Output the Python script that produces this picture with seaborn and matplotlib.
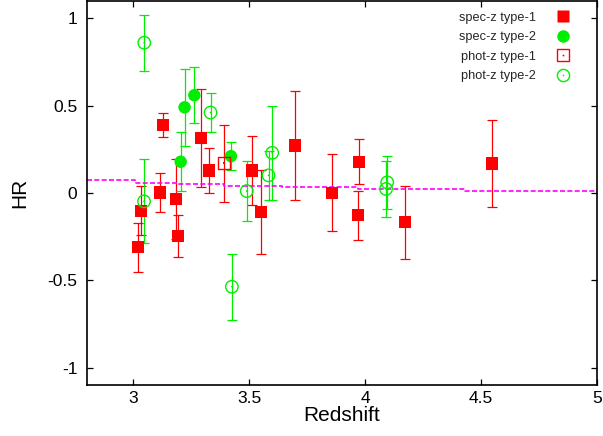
import matplotlib
matplotlib.use("Agg")
import matplotlib.pyplot as plt
import seaborn as sns
import pandas as pd
from matplotlib.lines import Line2D

# ---- data ----
spec1_z = [3.019, 3.033, 3.115, 3.128, 3.184, 3.191, 3.292, 3.326, 3.51, 3.55, 3.697, 3.855, 3.973, 3.968, 4.172, 4.547]
spec1_hr = [-0.311, -0.101, 0.003, 0.39, -0.033, -0.248, 0.316, 0.129, 0.129, -0.111, 0.272, 0.002, 0.18, -0.128, -0.168, 0.169]
spec1_err = [0.14, 0.14, 0.11, 0.07, 0.23, 0.12, 0.28, 0.13, 0.20, 0.24, 0.31, 0.22, 0.13, 0.14, 0.21, 0.25]

spec2_z = [3.204, 3.221, 3.263, 3.421]
spec2_hr = [0.179, 0.491, 0.56, 0.211]
spec2_err = [0.17, 0.22, 0.16, 0.08]

phot1_z = [3.39]
phot1_hr = [0.171]
phot1_err = [0.22]

phot2_z = [3.047, 3.046, 3.333, 3.425, 3.489, 3.583, 3.599, 4.095, 4.09]
phot2_hr = [0.861, -0.048, 0.461, -0.537, 0.011, 0.101, 0.23, 0.061, 0.023]
phot2_err = [0.16, 0.24, 0.11, 0.19, 0.17, 0.14, 0.27, 0.15, 0.16]

line_z = [2.8, 3.007, 3.188, 3.39, 3.641, 3.969, 4.43, 5.0]
line_hr = [0.076, 0.059, 0.052, 0.042, 0.032, 0.021, 0.011, 0.011]

x_ticks = [3, 3.5, 4, 4.5, 5]
x_ticklabels = ["3", "3.5", "4", "4.5", "5"]
y_ticks = [-1, -0.5, 0, 0.5, 1]
y_ticklabels = ["-1", "-0.5", "0", "0.5", "1"]

labels = ["spec-z type-1", "spec-z type-2", "phot-z type-1", "phot-z type-2"]

RED = "#ff0000"
GREEN = "#00ee00"
MAG = "#ff00ff"

sns.set_theme(style="white")
plt.rcParams["font.family"] = ["Liberation Sans", "DejaVu Sans"]

fig = plt.figure(figsize=(6.03, 4.36), dpi=100)
ax = fig.add_axes([87 / 603, 51 / 436, 510 / 603, 384 / 436])
ax.set_facecolor("white")

# magenta step line
sns.lineplot(x=line_z, y=line_hr, ax=ax, color=MAG, lw=1.2, drawstyle="steps-post",
             dashes=False, zorder=2.5, estimator=None, sort=False)
ax.lines[-1].set_dashes((3.0, 1.4))

ekw = dict(fmt="none", elinewidth=0.9, capsize=3.5, capthick=0.9, zorder=2)
ax.errorbar(spec1_z, spec1_hr, yerr=spec1_err, ecolor=RED, **ekw)
ax.errorbar(spec2_z, spec2_hr, yerr=spec2_err, ecolor=GREEN, **ekw)
ax.errorbar(phot1_z, phot1_hr, yerr=phot1_err, ecolor=RED, **ekw)
ax.errorbar(phot2_z, phot2_hr, yerr=phot2_err, ecolor=GREEN, **ekw)

df1 = pd.DataFrame({"z": spec1_z, "hr": spec1_hr})
df2 = pd.DataFrame({"z": spec2_z, "hr": spec2_hr})
df3 = pd.DataFrame({"z": phot1_z, "hr": phot1_hr})
df4 = pd.DataFrame({"z": phot2_z, "hr": phot2_hr})

sns.scatterplot(data=df1, x="z", y="hr", ax=ax, marker="s", s=76, color=RED,
                edgecolor="none", linewidth=0, zorder=3)
sns.scatterplot(data=df2, x="z", y="hr", ax=ax, marker="o", s=80, color=GREEN,
                edgecolor="none", linewidth=0, zorder=3)
sns.scatterplot(data=df3, x="z", y="hr", ax=ax, marker="s", s=76, facecolor="none",
                edgecolor=RED, linewidth=1.0, zorder=3)
sns.scatterplot(data=df3, x="z", y="hr", ax=ax, marker="s", s=1.5, color=RED,
                edgecolor="none", linewidth=0, zorder=3)
sns.scatterplot(data=df4, x="z", y="hr", ax=ax, marker="o", s=80, facecolor="none",
                edgecolor=GREEN, linewidth=1.0, zorder=3)
sns.scatterplot(data=df4, x="z", y="hr", ax=ax, marker="o", s=1.5, color=GREEN,
                edgecolor="none", linewidth=0, zorder=3)

ax.set_xlim(2.8, 5.0)
ax.set_ylim(-1.1, 1.1)
ax.set_xticks(x_ticks)
ax.set_xticklabels(x_ticklabels)
ax.set_yticks(y_ticks)
ax.set_yticklabels(y_ticklabels)
ax.tick_params(direction="in", length=4, width=0.9, top=True, right=True,
               bottom=True, left=True, labelsize=12.5, colors="black")
ax.tick_params(axis="y", pad=7)
ax.tick_params(axis="x", pad=4)
for sp in ax.spines.values():
    sp.set_color("black")
    sp.set_linewidth(1.2)
    sp.set_visible(True)

ax.set_xlabel("Redshift", fontsize=15, labelpad=0, color="black")
ax.set_ylabel("HR", fontsize=15, labelpad=13, color="black")

# legend
h1 = Line2D([], [], ls="none", marker="s", ms=8.8, mfc=RED, mec="none")
h2 = Line2D([], [], ls="none", marker="o", ms=9.0, mfc=GREEN, mec="none")
h3a = Line2D([], [], ls="none", marker="s", ms=8.6, mfc="none", mec=RED, mew=1.0)
h3b = Line2D([], [], ls="none", marker="s", ms=1.2, mfc=RED, mec="none")
h4a = Line2D([], [], ls="none", marker="o", ms=8.8, mfc="none", mec=GREEN, mew=1.0)
h4b = Line2D([], [], ls="none", marker="o", ms=1.2, mfc=GREEN, mec="none")
leg = ax.legend([h1, h2, (h3a, h3b), (h4a, h4b)], labels, loc="upper right",
                bbox_to_anchor=(0.955, 0.985), borderaxespad=0, frameon=False,
                markerfirst=False, handlelength=1.0, handletextpad=1.6,
                labelspacing=0.58, fontsize=9.2, borderpad=0.4)

fig.savefig("out.png", dpi=100, facecolor="white")
